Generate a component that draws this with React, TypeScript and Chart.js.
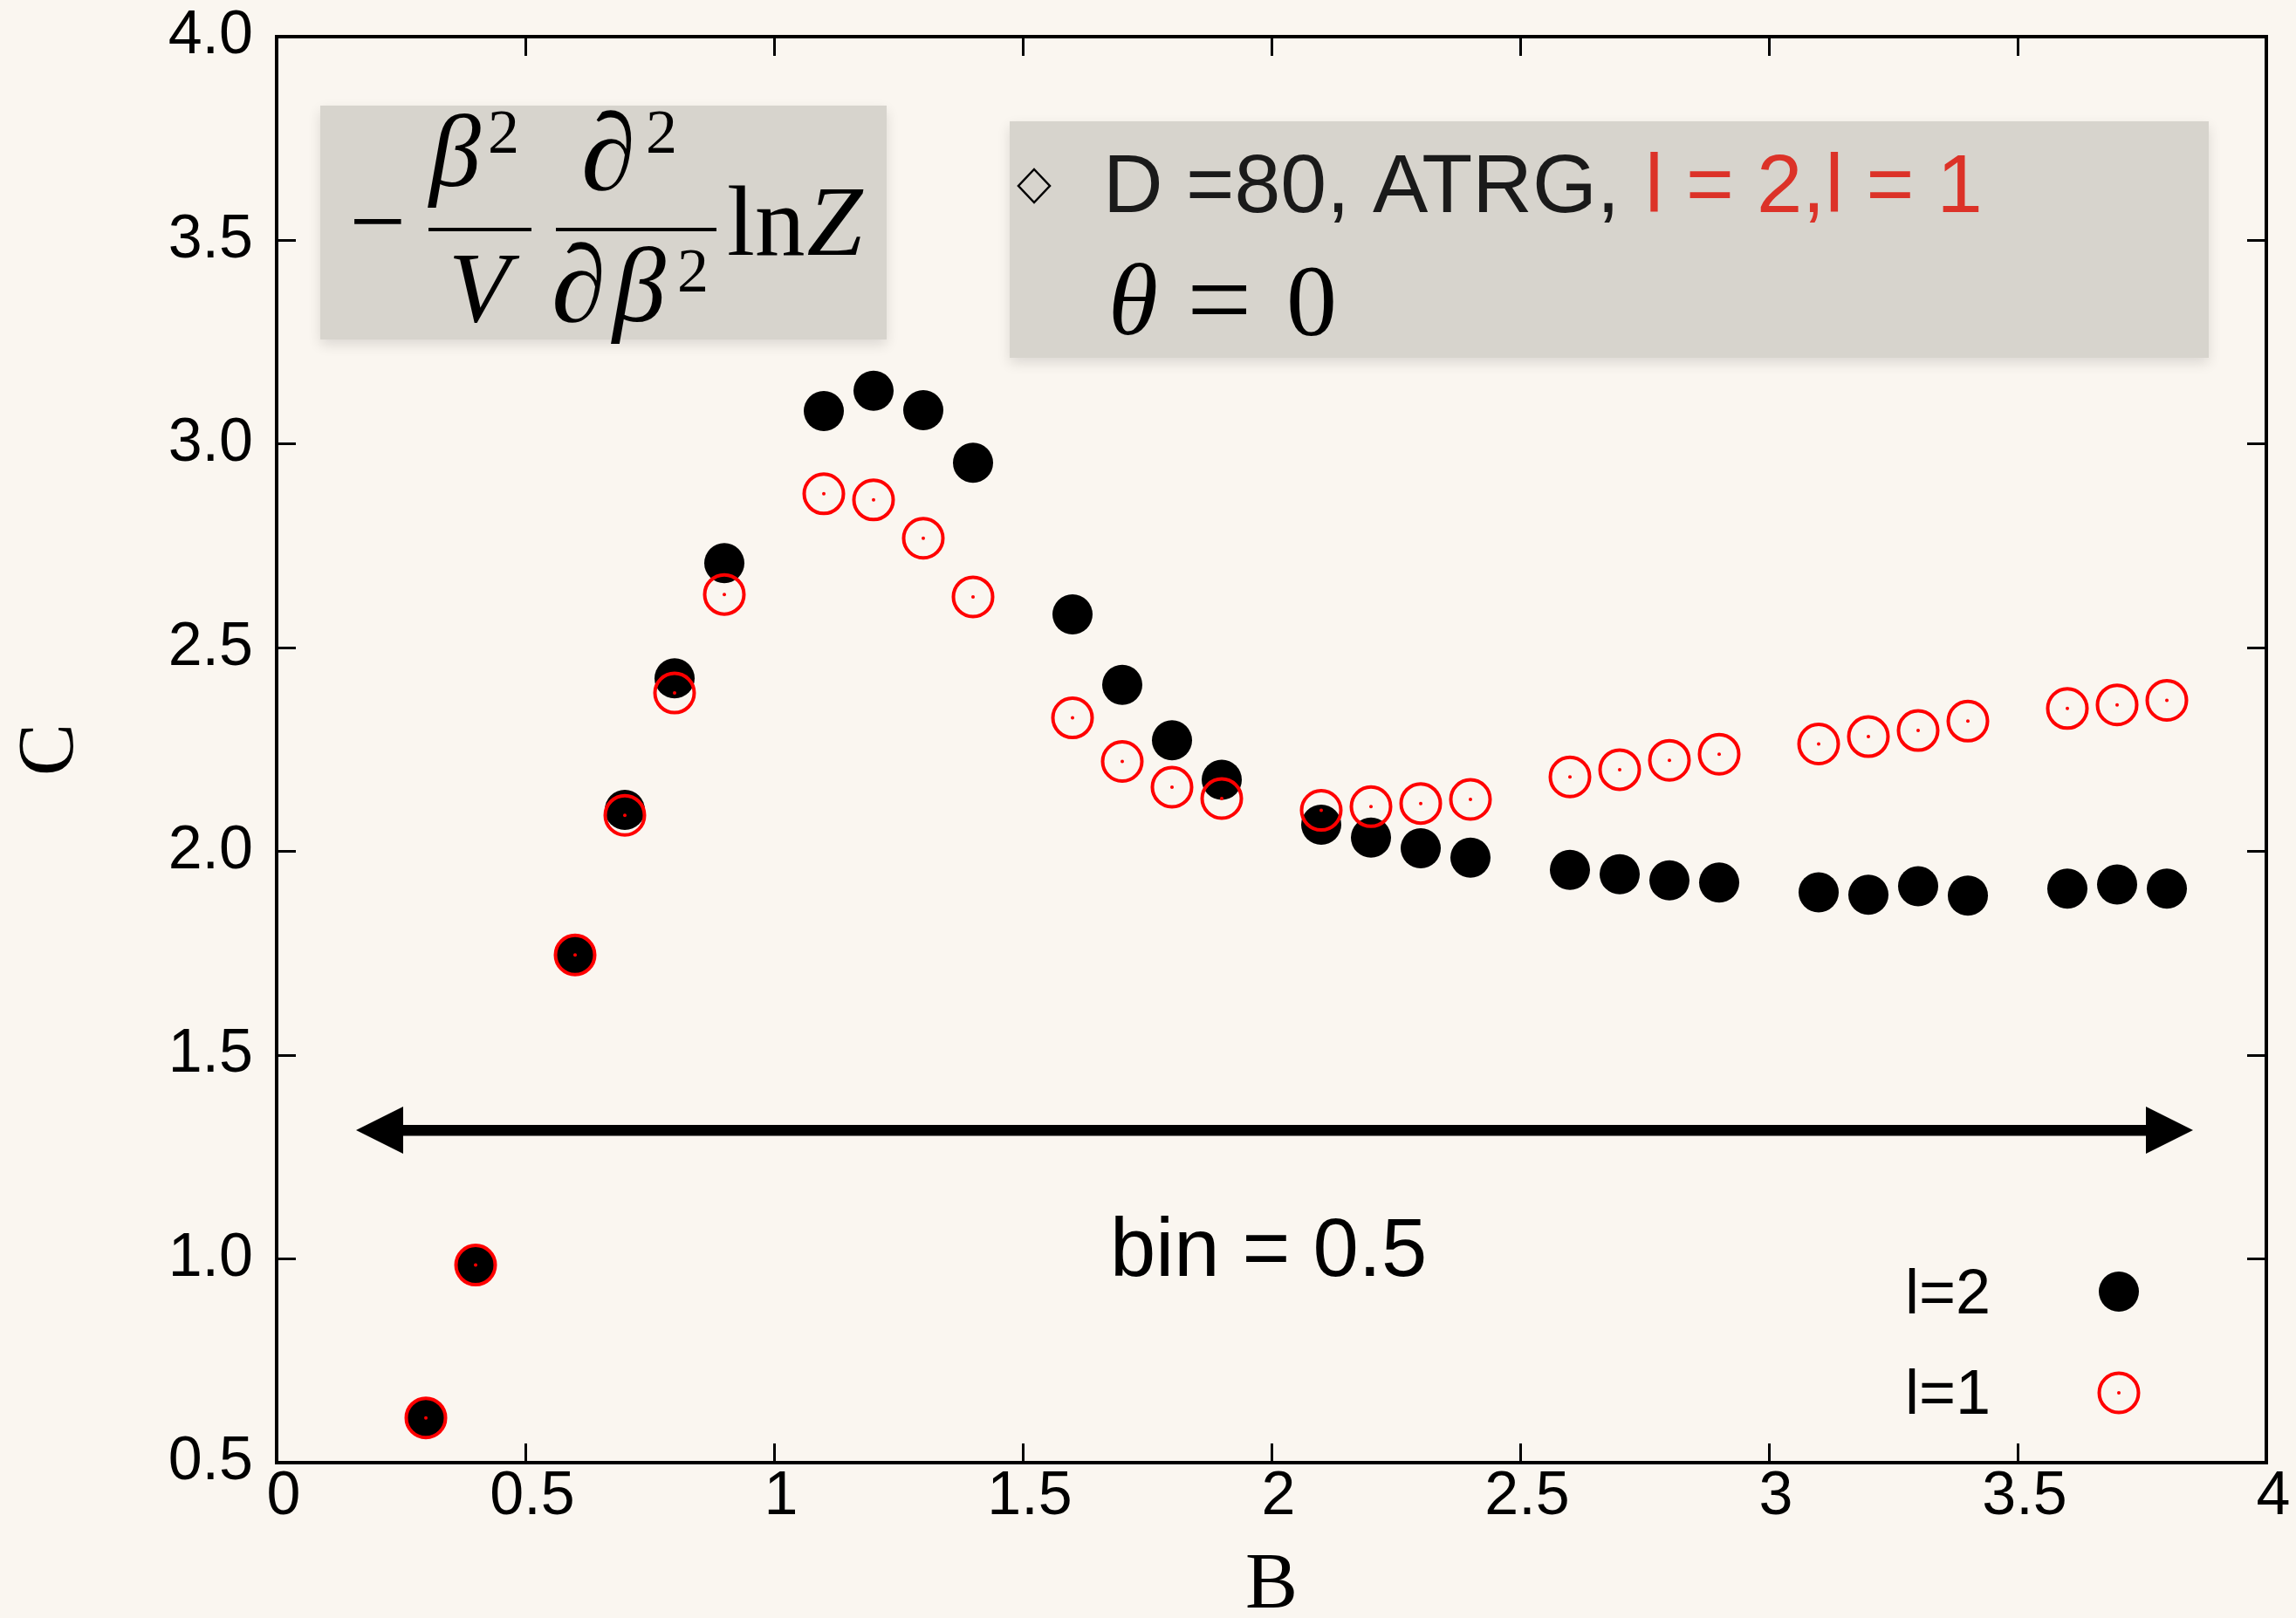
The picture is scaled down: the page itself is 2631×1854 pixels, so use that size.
import React, { useEffect, useRef } from "react";
import { Chart, registerables } from "chart.js";

Chart.register(...registerables);

const W = 2631;
const H = 1854;

// ---- data ----
const B_VALUES = [
  0.3, 0.4, 0.6, 0.7, 0.8, 0.9,
  1.1, 1.2, 1.3, 1.4,
  1.6, 1.7, 1.8, 1.9,
  2.1, 2.2, 2.3, 2.4,
  2.6, 2.7, 2.8, 2.9,
  3.1, 3.2, 3.3, 3.4,
  3.6, 3.7, 3.8,
];
const C_L2 = [
  0.61, 0.985, 1.746, 2.102, 2.425, 2.708,
  3.081, 3.131, 3.083, 2.954,
  2.582, 2.409, 2.273, 2.176,
  2.066, 2.034, 2.008, 1.985,
  1.955, 1.944, 1.929, 1.924,
  1.9, 1.894, 1.915, 1.892,
  1.909, 1.919, 1.909,
];
const C_L1 = [
  0.61, 0.985, 1.746, 2.089, 2.389, 2.631,
  2.878, 2.863, 2.769, 2.625,
  2.328, 2.221, 2.158, 2.13,
  2.101, 2.11, 2.118, 2.128,
  2.183, 2.201, 2.224, 2.239,
  2.264, 2.282, 2.297, 2.32,
  2.351, 2.36, 2.371,
];
const X_TICKS = [0, 0.5, 1, 1.5, 2, 2.5, 3, 3.5, 4];
const X_TICK_LABELS = ["0", "0.5", "1", "1.5", "2", "2.5", "3", "3.5", "4"];
const Y_TICKS = [0.5, 1, 1.5, 2, 2.5, 3, 3.5, 4];
const Y_TICK_LABELS = ["0.5", "1.0", "1.5", "2.0", "2.5", "3.0", "3.5", "4.0"];
const SERIES_LABELS = ["l=2", "l=1"];
const X_TITLE = "B";
const Y_TITLE = "C";
const BIN_TEXT = "bin = 0.5";
const INFO_BLACK = "D =80, ATRG, ";
const INFO_RED = "l = 2,l = 1";

// ---- styles ----
const BG = "#faf6f0";
const BOX = "#d7d4cd";
const RED = "#ff0000";
const TEXT_RED = "#dc3228";
const SANS = '"Liberation Sans", Arial, sans-serif';
const SERIF = '"Liberation Serif", "DejaVu Serif", serif';

function txt(
  ctx: CanvasRenderingContext2D,
  s: string,
  x: number,
  y: number,
  font: string,
  color = "#000",
  align: CanvasTextAlign = "left"
) {
  ctx.font = font;
  ctx.fillStyle = color;
  ctx.textAlign = align;
  ctx.textBaseline = "alphabetic";
  ctx.fillText(s, x, y);
  return ctx.measureText(s).width;
}

const bgPlugin = {
  id: "bgFill",
  beforeDraw(chart: any) {
    const ctx = chart.ctx as CanvasRenderingContext2D;
    ctx.save();
    ctx.fillStyle = BG;
    ctx.fillRect(0, 0, chart.width, chart.height);
    ctx.restore();
  },
};

function shadedBox(ctx: CanvasRenderingContext2D, x: number, y: number, w: number, h: number) {
  ctx.save();
  ctx.shadowColor = "rgba(0,0,0,0.12)";
  ctx.shadowBlur = 14;
  ctx.shadowOffsetY = 6;
  ctx.fillStyle = BOX;
  ctx.fillRect(x, y, w, h);
  ctx.restore();
}

const annotPlugin = {
  id: "annotations",
  afterDraw(chart: any) {
    const ctx = chart.ctx as CanvasRenderingContext2D;
    ctx.save();

    // ---- formula box ----
    shadedBox(ctx, 367, 121, 649, 268);
    txt(ctx, "\u2212", 433, 292, `115px ${SERIF}`, "#000", "center");
    ctx.fillStyle = "#000";
    ctx.fillRect(491, 261, 118, 4);
    ctx.fillRect(637, 261, 184, 4);
    txt(ctx, "\u03b2", 492, 213, `italic 118px ${SERIF}`);
    txt(ctx, "2", 559, 175, `72px ${SERIF}`);
    txt(ctx, "V", 549, 368, `italic 115px ${SERIF}`, "#000", "center");
    txt(ctx, "\u2202", 666, 217, `italic 126px ${SERIF}`);
    txt(ctx, "2", 740, 175, `72px ${SERIF}`);
    txt(ctx, "\u2202", 632, 368, `italic 126px ${SERIF}`);
    txt(ctx, "\u03b2", 702, 368, `italic 122px ${SERIF}`);
    txt(ctx, "2", 776, 334, `72px ${SERIF}`);
    const lnW = txt(ctx, "ln", 833, 292, `115px ${SERIF}`);
    txt(ctx, "Z", 833 + lnW + 2, 292, `italic 115px ${SERIF}`);

    // ---- info box ----
    shadedBox(ctx, 1157, 139, 1374, 271);
    ctx.beginPath();
    ctx.moveTo(1185, 194);
    ctx.lineTo(1203, 213);
    ctx.lineTo(1185, 232);
    ctx.lineTo(1167, 213);
    ctx.closePath();
    ctx.lineWidth = 2.5;
    ctx.strokeStyle = "#000";
    ctx.stroke();
    txt(ctx, INFO_BLACK, 1264, 243, `95px ${SANS}`, "#1a1a1a");
    txt(ctx, INFO_RED, 1885, 243, `94px ${SANS}`, TEXT_RED);
    txt(ctx, "\u03b8", 1270, 383, `italic 116px ${SERIF}`);
    txt(ctx, "=", 1360, 387, `132px ${SERIF}`);
    txt(ctx, "0", 1474, 384, `116px ${SERIF}`);

    // ---- double arrow ----
    ctx.fillStyle = "#000";
    ctx.fillRect(460, 1289, 2001, 12.5);
    ctx.beginPath();
    ctx.moveTo(408, 1295);
    ctx.lineTo(462, 1268);
    ctx.lineTo(462, 1322);
    ctx.closePath();
    ctx.fill();
    ctx.beginPath();
    ctx.moveTo(2513, 1295);
    ctx.lineTo(2459, 1268);
    ctx.lineTo(2459, 1322);
    ctx.closePath();
    ctx.fill();
    txt(ctx, BIN_TEXT, 1272, 1462, `94px ${SANS}`);

    // ---- legend ----
    txt(ctx, SERIES_LABELS[0], 2183, 1505, `72px ${SANS}`);
    txt(ctx, SERIES_LABELS[1], 2183, 1620, `72px ${SANS}`);
    ctx.beginPath();
    ctx.arc(2428, 1480, 23, 0, Math.PI * 2);
    ctx.fillStyle = "#000";
    ctx.fill();
    ctx.beginPath();
    ctx.arc(2428, 1596, 22.5, 0, Math.PI * 2);
    ctx.lineWidth = 4;
    ctx.strokeStyle = RED;
    ctx.stroke();
    ctx.beginPath();
    ctx.arc(2428, 1596, 2, 0, Math.PI * 2);
    ctx.fillStyle = RED;
    ctx.fill();

    ctx.restore();
  },
};

function zeroPad(s: any) {
  s.paddingTop = 0;
  s.paddingBottom = 0;
  s.paddingLeft = 0;
  s.paddingRight = 0;
}

function axisBase(position: string, min: number, max: number, ticks: number[]) {
  return {
    type: "linear" as const,
    position,
    min,
    max,
    afterBuildTicks: (s: any) => {
      s.ticks = ticks.map((v) => ({ value: v }));
    },
    border: { display: true, color: "#000", width: 4 },
    grid: {
      display: true,
      drawOnChartArea: false,
      drawTicks: true,
      tickLength: -22,
      tickWidth: 3,
      tickColor: "#000",
      color: "#000",
      lineWidth: 3,
    },
  };
}

export default function App() {
  const ref = useRef<HTMLCanvasElement>(null);

  useEffect(() => {
    const canvas = ref.current;
    if (!canvas) return;
    const pts = (ys: number[]) => B_VALUES.map((b, i) => ({ x: b, y: ys[i] }));

    const chart = new Chart(canvas, {
      type: "scatter",
      data: {
        datasets: [
          {
            label: SERIES_LABELS[1] + " centre",
            data: pts(C_L1),
            pointRadius: 2,
            pointHoverRadius: 2,
            backgroundColor: RED,
            borderWidth: 0,
          },
          {
            label: SERIES_LABELS[1],
            data: pts(C_L1),
            pointRadius: 22.5,
            pointHoverRadius: 22.5,
            backgroundColor: "rgba(0,0,0,0)",
            borderColor: RED,
            borderWidth: 4,
          },
          {
            label: SERIES_LABELS[0],
            data: pts(C_L2),
            pointRadius: 23,
            pointHoverRadius: 23,
            backgroundColor: "#000",
            borderWidth: 0,
          },
        ],
      },
      options: {
        responsive: false,
        animation: false,
        devicePixelRatio: 1,
        events: [],
        layout: { padding: { left: 0, top: 42, right: 34, bottom: 0 } },
        plugins: { legend: { display: false }, tooltip: { enabled: false } },
        scales: {
          x: {
            ...axisBase("bottom", 0, 4, X_TICKS),
            ticks: {
              padding: 20,
              labelOffset: 8,
              color: "#000",
              font: { family: SANS, size: 70 },
              maxRotation: 0,
              autoSkip: false,
              callback: (_v: any, i: number) => X_TICK_LABELS[i],
            },
            title: {
              display: true,
              text: X_TITLE,
              color: "#000",
              font: { family: SERIF, size: 90, lineHeight: 0.8 },
              padding: { top: 0, bottom: 0 },
            },
            afterFit: (s: any) => {
              s.height = 178;
              zeroPad(s);
            },
          },
          y: {
            ...axisBase("left", 0.5, 4, Y_TICKS),
            ticks: {
              padding: 49,
              color: "#000",
              font: { family: SANS, size: 70 },
              autoSkip: false,
              callback: (_v: any, i: number) => Y_TICK_LABELS[i],
            },
            title: {
              display: true,
              text: Y_TITLE,
              color: "#000",
              font: { family: SERIF, size: 90, lineHeight: 0.8 },
              padding: { top: 23, bottom: 0 },
            },
            afterFit: (s: any) => {
              s.width = 317;
              zeroPad(s);
            },
          },
          x2: {
            ...axisBase("top", 0, 4, X_TICKS),
            ticks: { display: false },
            afterFit: (s: any) => {
              s.height = 0;
              zeroPad(s);
            },
          },
          y2: {
            ...axisBase("right", 0.5, 4, Y_TICKS),
            ticks: { display: false },
            afterFit: (s: any) => {
              s.width = 0;
              zeroPad(s);
            },
          },
        },
      } as any,
      plugins: [bgPlugin, annotPlugin],
    });

    return () => chart.destroy();
  }, []);

  return (
    <div style={{ position: "fixed", left: 0, top: 0, width: W, height: H, background: BG }}>
      <canvas ref={ref} width={W} height={H} style={{ display: "block", width: W, height: H }} />
    </div>
  );
}
